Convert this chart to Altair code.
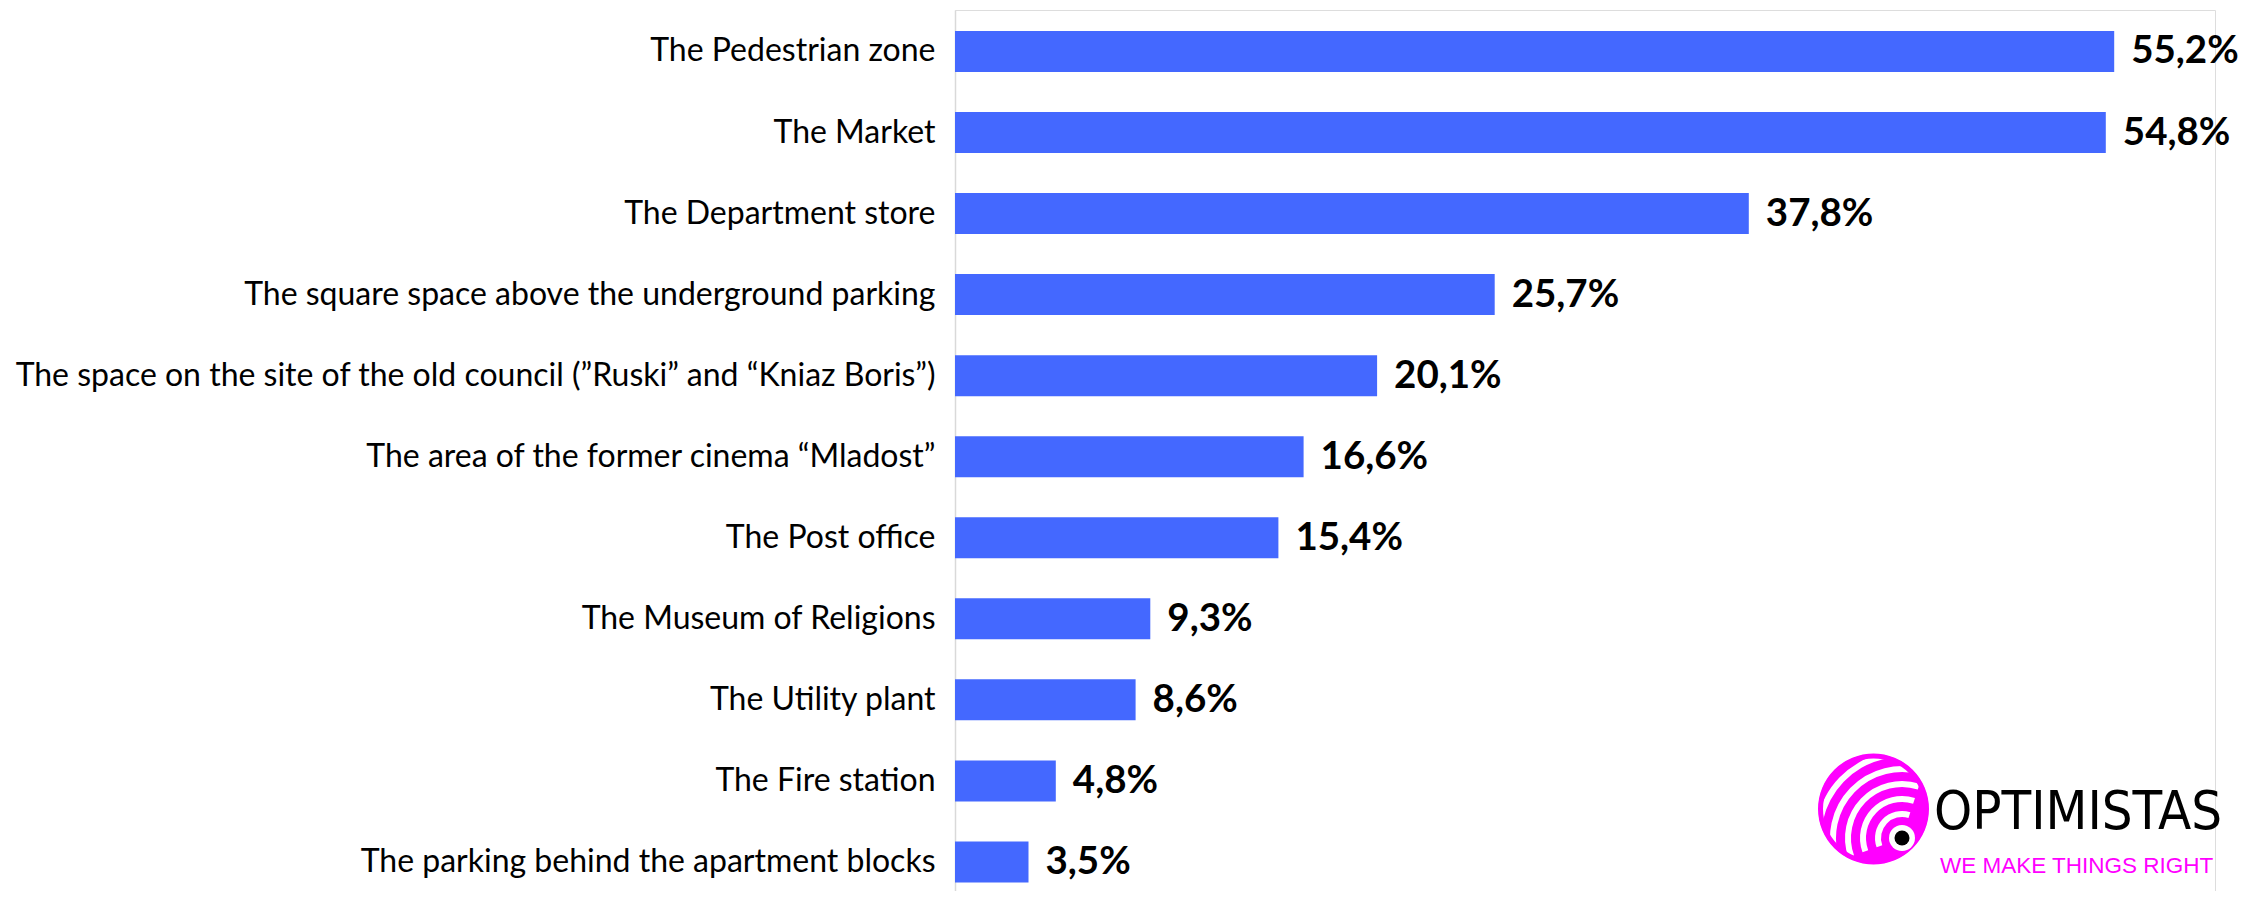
import math
import altair as alt
import pandas as pd

# ---- data ----
categories = [
    "The Pedestrian zone",
    "The Market",
    "The Department store",
    "The square space above the underground parking",
    "The space on the site of the old council (\u201dRuski\u201d and \u201cKniaz Boris\u201d)",
    "The area of the former cinema \u201cMladost\u201d",
    "The Post office",
    "The Museum of Religions",
    "The Utility plant",
    "The Fire station",
    "The parking behind the apartment blocks",
]
values = [55.2, 54.8, 37.8, 25.7, 20.1, 16.6, 15.4, 9.3, 8.6, 4.8, 3.5]
value_labels = ["55,2%", "54,8%", "37,8%", "25,7%", "20,1%", "16,6%", "15,4%",
                "9,3%", "8,6%", "4,8%", "3,5%"]

df = pd.DataFrame({"category": categories, "value": values, "label": value_labels})

BAR_COLOR = "#4468FF"
PINK = "#FF00FF"
LABEL_FONT = "Lato"

W, H = 1260, 881

y_enc = alt.Y(
    "category:N",
    sort=categories,
    scale=alt.Scale(paddingInner=0.494, paddingOuter=0.182, align=0.71),
    axis=alt.Axis(
        title=None, ticks=False, labelPadding=20, labelFontSize=32,
        labelFont=LABEL_FONT, labelColor="#000000", labelLimit=1300,
        domainColor="#D9D9D9", domainWidth=1.5,
    ),
)
x_enc = alt.X("value:Q", scale=alt.Scale(domain=[0, 60]), axis=None)

bars = alt.Chart(df).mark_bar(color=BAR_COLOR).encode(x=x_enc, y=y_enc)
texts = alt.Chart(df).mark_text(
    align="left", baseline="middle", dx=17, font=LABEL_FONT,
    fontWeight="bold", fontSize=38.5, color="#000000",
).encode(x=x_enc, y=y_enc, text="label:N")

# ---- logo (decoration) ----
one = pd.DataFrame({"k": [0]})
CX, CY = 918.5, 799
DX, DY = 947, 828
TWO_PI = 2 * math.pi


def disc(cx, cy, r_out, r_in, color):
    return alt.Chart(one).mark_arc(
        theta=0, theta2=TWO_PI, outerRadius=r_out, innerRadius=r_in,
        color=color, strokeWidth=0,
    ).encode(x=alt.value(cx), y=alt.value(cy))


arc_r = [24, 39, 54, 69, 84]
arcs_df = pd.DataFrame({
    "ri": [r - 3 for r in arc_r],
    "ro": [r + 3 for r in arc_r],
    "t1": [math.radians(250)] * len(arc_r),
    "t2": [math.radians(378)] * len(arc_r),
})
white_arcs = alt.Chart(arcs_df).mark_arc(color="#FFFFFF", strokeWidth=0).encode(
    x=alt.value(DX), y=alt.value(DY),
    theta=alt.Theta("t1:Q", scale=None, stack=None),
    theta2=alt.Theta2("t2:Q"),
    radius=alt.Radius("ro:Q", scale=None),
    radius2=alt.Radius2("ri:Q"),
)

logo_name = alt.Chart(one).mark_text(
    text="OPTIMISTAS", align="left", baseline="alphabetic",
    font="DejaVu Sans Condensed, Roboto Condensed, Roboto, sans-serif",
    fontSize=54, color="#000000",
).encode(x=alt.value(979), y=alt.value(819))
logo_tag = alt.Chart(one).mark_text(
    text="WE MAKE THINGS RIGHT", align="left", baseline="alphabetic",
    font="Liberation Sans", fontSize=22.5, color=PINK,
).encode(x=alt.value(985), y=alt.value(863))

chart = alt.layer(
    bars, texts,
    disc(CX, CY, 55.5, 0, PINK),
    white_arcs,
    disc(CX, CY, 56, 50.5, PINK),
    disc(CX, CY, 135, 55.5, "#FFFFFF"),
    disc(DX, DY, 13, 0, "#FFFFFF"),
    disc(DX, DY, 7.5, 0, "#000000"),
    logo_name, logo_tag,
).properties(
    width=W, height=H,
    autosize=alt.AutoSizeParams(type="none"),
    padding={"left": 947, "top": 2, "right": 28, "bottom": 0},
).configure_view(stroke=None).configure(background="#FFFFFF")

chart.save("out.html", embed_options={"renderer": "svg", "actions": False})
